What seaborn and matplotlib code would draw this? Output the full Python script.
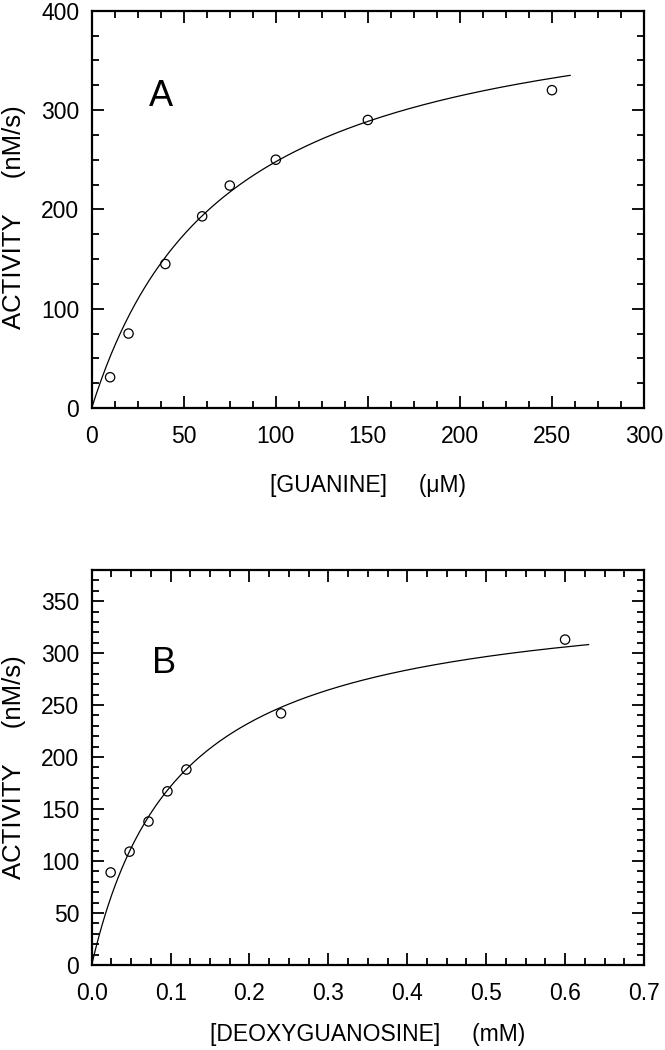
import numpy as np
import pandas as pd
import matplotlib
matplotlib.use("Agg")
import matplotlib.pyplot as plt
from matplotlib.ticker import MultipleLocator, FormatStrFormatter
import seaborn as sns

# Panel A: guanine (uM) vs activity (nM/s)
guanine_conc = [10, 20, 40, 60, 75, 100, 150, 250]
guanine_rate = [31, 75, 145, 193, 224, 250, 290, 320]
guanine_vmax, guanine_km = 429.0, 73.0
guanine_fit_max = 260

# Panel B: deoxyguanosine (mM) vs activity (nM/s)
dgua_conc = [0.024, 0.048, 0.072, 0.096, 0.12, 0.24, 0.6]
dgua_rate = [89, 109, 138, 167, 188, 242, 313]
dgua_vmax, dgua_km = 362.5, 0.111
dgua_fit_max = 0.63

sns.set_theme(style="ticks")
plt.rcParams['font.family'] = ['Liberation Sans', 'DejaVu Sans']
plt.rcParams['axes.linewidth'] = 1.6
for key in ['text.color', 'axes.labelcolor', 'xtick.color', 'ytick.color', 'axes.edgecolor']:
    plt.rcParams[key] = 'black'

fig = plt.figure(figsize=(6.65, 10.5), dpi=100)
ax_a = fig.add_axes([0.1379, 0.6114, 0.8305, 0.3784])
ax_b = fig.add_axes([0.1379, 0.0810, 0.8305, 0.3762])


def mm_curve(vmax, km, xmax):
    s = np.linspace(0, xmax, 300)
    return pd.DataFrame({"s": s, "v": vmax * s / (km + s)})


def draw_panel(ax, conc, rate, vmax, km, xmax, letter, letter_xy):
    fit = mm_curve(vmax, km, xmax)
    sns.lineplot(data=fit, x="s", y="v", ax=ax, color="black", lw=0.9)
    pts = pd.DataFrame({"s": conc, "v": rate})
    sns.scatterplot(data=pts, x="s", y="v", ax=ax, marker="o", s=45,
                    facecolor="none", edgecolor="black", linewidth=0.9, zorder=3)
    ax.text(letter_xy[0], letter_xy[1], letter, fontsize=26, ha="left", va="center")
    ax.tick_params(which="both", direction="in", top=True, right=True,
                   labelsize=16.5, width=1.3)
    ax.tick_params(axis="x", which="major", length=8.4, pad=12)
    ax.tick_params(axis="y", which="major", length=8.4, pad=9)
    ax.tick_params(which="minor", length=5.2)


draw_panel(ax_a, guanine_conc, guanine_rate, guanine_vmax, guanine_km,
           guanine_fit_max, "A", (31, 314))
ax_a.set_xlim(0, 300)
ax_a.set_ylim(0, 400)
ax_a.xaxis.set_major_locator(MultipleLocator(50))
ax_a.xaxis.set_minor_locator(MultipleLocator(12.5))
ax_a.yaxis.set_major_locator(MultipleLocator(100))
ax_a.yaxis.set_minor_locator(MultipleLocator(25))
ax_a.set_xlabel("[GUANINE]     (\u03bcM)", fontsize=16.5, labelpad=19)
ax_a.set_ylabel("ACTIVITY     (nM/s)", fontsize=18.5, labelpad=11, y=0.48)

draw_panel(ax_b, dgua_conc, dgua_rate, dgua_vmax, dgua_km,
           dgua_fit_max, "B", (0.076, 290))
ax_b.set_xlim(0, 0.7)
ax_b.set_ylim(0, 380)
ax_b.xaxis.set_major_locator(MultipleLocator(0.1))
ax_b.xaxis.set_minor_locator(MultipleLocator(0.025))
ax_b.xaxis.set_major_formatter(FormatStrFormatter('%.1f'))
ax_b.yaxis.set_major_locator(MultipleLocator(50))
ax_b.yaxis.set_minor_locator(MultipleLocator(10))
ax_b.set_xlabel("[DEOXYGUANOSINE]     (mM)", fontsize=16.5, labelpad=13)
ax_b.set_ylabel("ACTIVITY     (nM/s)", fontsize=18.5, labelpad=11)

fig.savefig("out.png", dpi=100)
